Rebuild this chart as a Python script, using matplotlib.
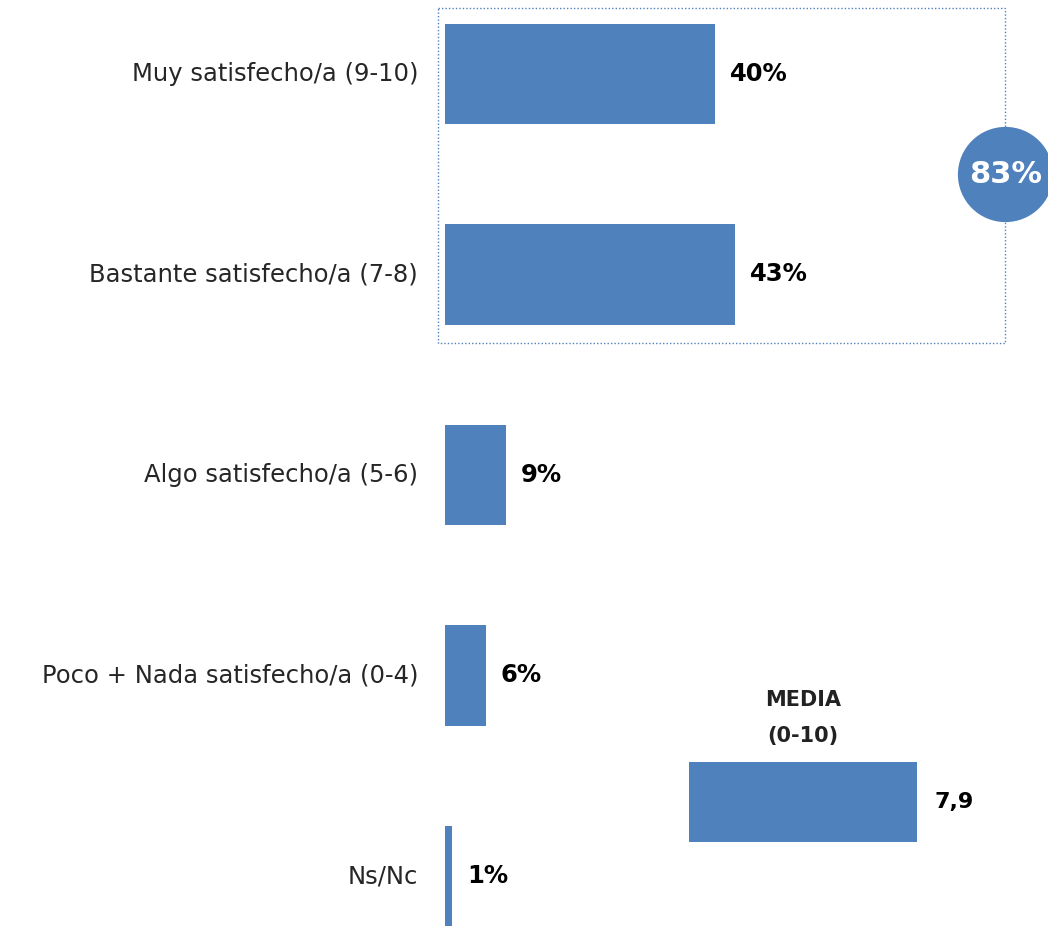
import matplotlib
matplotlib.use("Agg")
import matplotlib.pyplot as plt
from matplotlib.patches import Rectangle

# categories and percentages
categorias = ["Muy satisfecho/a (9-10)", "Bastante satisfecho/a (7-8)",
              "Algo satisfecho/a (5-6)", "Poco + Nada satisfecho/a (0-4)",
              "Ns/Nc"]
valores = [40, 43, 9, 6, 1]
total_satisfechos = 83     # 40 + 43
media = 7.9
media_txt = "7,9"

AZUL = "#4F81BD"
plt.rcParams['font.family'] = ['DejaVu Sans']

W, H = 1048, 926
fig = plt.figure(figsize=(W / 100, H / 100), dpi=100)

# main bars: x=0 sits at pixel 445, about 6.75 px per percent
x0 = 445
ppp = 6.75
ax = fig.add_axes([x0 / W, 0, 1 - x0 / W, 1])
ax.set_xlim(0, (W - x0) / ppp)
ax.set_ylim((H - 74) / 200.5, -74 / 200.5)
ax.axis("off")

pos = list(range(len(categorias)))
ax.barh(pos, valores, height=0.5, color=AZUL)
for p, v, c in zip(pos, valores, categorias):
    ax.annotate(f"{v}%", (v, p), xytext=(15, 0), textcoords="offset pixels",
                va="center", ha="left", fontsize=17.5, fontweight="bold")
    ax.annotate(c, (0, p), xytext=(-27, 0), textcoords="offset pixels",
                va="center", ha="right", fontsize=17.5, color="#262626",
                annotation_clip=False)

# dotted frame round the two top categories
caja_x1 = total_satisfechos
ax.add_patch(Rectangle((-1.0, -0.33), caja_x1 + 1.0, 1.67, fill=False,
                       edgecolor=AZUL, linestyle=(0, (1, 1.5)), linewidth=1.0,
                       clip_on=False))
ax.scatter([caja_x1], [0.5], s=4700, color=AZUL, zorder=5, clip_on=False,
           linewidths=0)
ax.text(caja_x1, 0.5, f"{total_satisfechos}%", color="white", fontsize=22,
        fontweight="bold", ha="center", va="center", zorder=6)

# mean score on a 0-10 scale
mx0 = 689
ax2 = fig.add_axes([mx0 / W, (H - 842) / H, 289 / W, 80 / H])
ax2.set_xlim(0, 10)
ax2.set_ylim(-0.5, 0.5)
ax2.axis("off")
ax2.barh([0], [media], height=1.0, color=AZUL)
ax2.annotate(media_txt, (media, 0), xytext=(17, 0), textcoords="offset pixels",
             va="center", ha="left", fontsize=16, fontweight="bold")
ax2.annotate("MEDIA\n(0-10)", (media / 2, 0.5), xytext=(0, 16),
             textcoords="offset pixels", ha="center", va="bottom",
             fontsize=15, fontweight="bold", linespacing=2.0,
             color="#222222")

fig.savefig("out.png", dpi=100)
